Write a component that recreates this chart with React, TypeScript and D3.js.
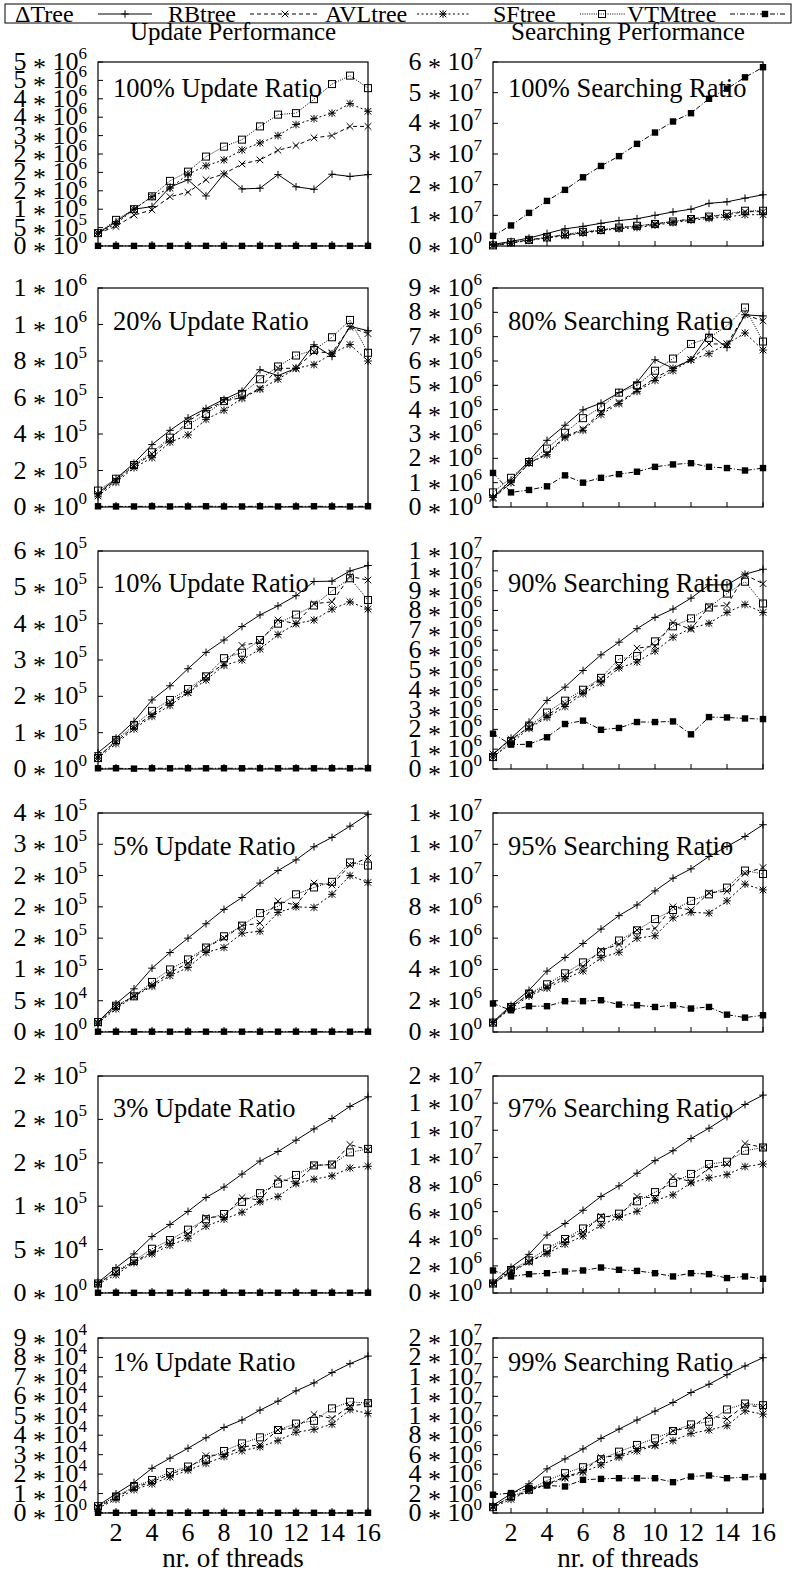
import * as d3 from "d3";

/* threads on the x axis */
const threads = [1, 2, 3, 4, 5, 6, 7, 8, 9, 10, 11, 12, 13, 14, 15, 16];
const seriesNames = ["ΔTree", "RBtree", "AVLtree", "SFtree", "VTMtree"];

/* each panel: [ΔTree, RBtree, AVLtree, SFtree, VTMtree], values in the panel's unit */
// 100% update, x1e6
const upd100 = [
  [0.35, 0.66, 1.0, 1.07, 1.6, 1.8, 1.36, 1.96, 1.55, 1.57, 1.94, 1.61, 1.54, 1.95, 1.89, 1.94],
  [0.35, 0.53, 0.84, 0.98, 1.34, 1.46, 1.8, 1.96, 2.23, 2.34, 2.6, 2.73, 2.94, 3.0, 3.25, 3.25],
  [0.35, 0.6, 1.0, 1.34, 1.57, 1.95, 2.18, 2.34, 2.61, 2.8, 3.0, 3.3, 3.46, 3.61, 3.87, 3.66],
  [0.35, 0.71, 1.0, 1.35, 1.77, 2.02, 2.43, 2.7, 2.89, 3.25, 3.57, 3.61, 3.99, 4.4, 4.63, 4.29],
  [0.004, 0.003, 0.003, 0.004, 0.003, 0.003, 0.004, 0.003, 0.003, 0.004, 0.003, 0.003, 0.004, 0.003, 0.003, 0.004],
];
// 100% searching, x1e7
const srch100 = [
  [0.05, 0.15, 0.26, 0.41, 0.56, 0.64, 0.74, 0.83, 0.89, 1.0, 1.11, 1.2, 1.39, 1.44, 1.56, 1.67],
  [0.02, 0.1, 0.2, 0.28, 0.36, 0.44, 0.52, 0.6, 0.64, 0.72, 0.8, 0.88, 0.95, 1.02, 1.12, 1.12],
  [0.02, 0.09, 0.18, 0.26, 0.34, 0.42, 0.5, 0.56, 0.6, 0.68, 0.76, 0.84, 0.9, 0.95, 1.02, 1.02],
  [0.02, 0.12, 0.2, 0.28, 0.38, 0.46, 0.52, 0.6, 0.66, 0.72, 0.8, 0.88, 0.96, 1.05, 1.15, 1.15],
  [0.33, 0.67, 1.08, 1.47, 1.83, 2.24, 2.61, 2.93, 3.33, 3.7, 4.06, 4.33, 4.8, 5.13, 5.5, 5.83],
];
// 20% update, x1e5
const upd20 = [
  [0.75, 1.55, 2.4, 3.42, 4.2, 4.88, 5.4, 5.9, 6.35, 7.52, 7.2, 7.6, 8.89, 8.25, 9.9, 9.66],
  [0.7, 1.45, 2.25, 2.9, 3.7, 4.7, 5.3, 5.8, 6.0, 6.5, 7.6, 7.6, 8.5, 8.45, 9.85, 9.5],
  [0.6, 1.35, 2.15, 2.7, 3.55, 3.95, 4.8, 5.3, 5.95, 6.45, 7.0, 7.6, 7.8, 8.4, 8.9, 8.0],
  [0.9, 1.55, 2.3, 3.0, 3.8, 4.5, 5.1, 5.8, 6.2, 7.0, 7.7, 8.3, 8.6, 9.3, 10.25, 8.45],
  [0.04, 0.03, 0.03, 0.04, 0.03, 0.03, 0.04, 0.03, 0.03, 0.04, 0.03, 0.03, 0.04, 0.03, 0.03, 0.04],
];
// 80% searching, x1e6
const srch80 = [
  [0.4, 1.1, 1.9, 2.74, 3.36, 3.99, 4.27, 4.7, 5.12, 6.05, 5.7, 6.05, 7.1, 6.55, 7.9, 7.85],
  [0.35, 1.0, 1.8, 2.2, 2.9, 3.2, 3.9, 4.3, 4.8, 5.3, 5.7, 6.05, 6.7, 6.7, 7.9, 7.65],
  [0.4, 1.0, 1.8, 2.15, 2.85, 3.15, 3.8, 4.25, 4.75, 5.2, 5.6, 6.05, 6.3, 6.7, 7.15, 6.45],
  [0.6, 1.2, 1.85, 2.4, 3.05, 3.65, 4.1, 4.7, 5.0, 5.6, 6.1, 6.7, 6.95, 7.45, 8.2, 6.8],
  [1.4, 0.6, 0.7, 0.85, 1.3, 1.0, 1.2, 1.35, 1.45, 1.65, 1.75, 1.8, 1.65, 1.6, 1.5, 1.6],
];
// 10% update, x1e5
const upd10 = [
  [0.45, 0.85, 1.31, 1.9, 2.29, 2.76, 3.21, 3.55, 3.92, 4.24, 4.49, 4.77, 5.16, 5.17, 5.45, 5.6],
  [0.35, 0.75, 1.15, 1.5, 1.85, 2.1, 2.55, 2.9, 3.4, 3.5, 4.1, 4.0, 4.55, 4.6, 5.3, 5.2],
  [0.3, 0.7, 1.1, 1.45, 1.75, 2.1, 2.45, 2.85, 3.0, 3.3, 3.7, 4.0, 4.1, 4.4, 4.6, 4.4],
  [0.3, 0.8, 1.2, 1.6, 1.9, 2.2, 2.55, 3.05, 3.2, 3.55, 4.0, 4.25, 4.5, 4.9, 5.25, 4.65],
  [0.02, 0.02, 0.01, 0.02, 0.02, 0.02, 0.02, 0.02, 0.02, 0.02, 0.02, 0.02, 0.02, 0.02, 0.02, 0.02],
];
// 90% searching, x1e6
const srch90 = [
  [0.72, 1.56, 2.37, 3.46, 4.13, 4.97, 5.76, 6.4, 7.08, 7.65, 8.07, 8.62, 9.29, 9.29, 9.83, 10.08],
  [0.75, 1.5, 2.1, 2.7, 3.3, 3.9, 4.55, 5.2, 6.1, 6.2, 7.39, 7.05, 8.2, 8.25, 9.8, 9.35],
  [0.6, 1.3, 2.05, 2.6, 3.15, 3.8, 4.35, 5.1, 5.4, 5.95, 6.65, 7.1, 7.35, 7.9, 8.3, 7.9],
  [0.6, 1.4, 2.15, 2.85, 3.45, 4.0, 4.6, 5.55, 5.7, 6.44, 7.2, 7.6, 8.15, 8.85, 9.45, 8.35],
  [1.78, 1.23, 1.25, 1.6, 2.27, 2.44, 1.98, 2.07, 2.37, 2.37, 2.4, 1.75, 2.62, 2.6, 2.55, 2.52],
];
// 5% update, x1e3
const upd5 = [
  [16, 45, 69, 102, 127, 150, 173, 196, 215, 238, 258, 275, 296, 311, 329, 348],
  [15, 40, 58, 75, 95, 110, 135, 150, 170, 174, 209, 203, 238, 235, 267, 278],
  [14, 37, 57, 73, 90, 103, 127, 135, 158, 161, 191, 200, 199, 220, 250, 239],
  [16, 42, 57, 80, 100, 116, 135, 153, 170, 190, 201, 220, 231, 240, 271, 266],
  [0.5, 0.5, 0.4, 0.5, 0.5, 0.5, 0.5, 0.5, 0.5, 0.5, 0.5, 0.5, 0.5, 0.5, 0.5, 0.5],
];
// 95% searching, x1e6
const srch95 = [
  [0.64, 1.71, 2.67, 3.89, 4.76, 5.66, 6.58, 7.44, 8.12, 9.02, 9.83, 10.43, 11.22, 11.86, 12.5, 13.25],
  [0.6, 1.6, 2.4, 2.9, 3.6, 4.2, 5.23, 5.6, 6.52, 6.62, 8.0, 7.8, 8.9, 9.0, 10.15, 10.51],
  [0.6, 1.5, 2.3, 2.8, 3.4, 3.9, 4.75, 5.1, 6.0, 6.15, 7.3, 7.65, 7.6, 8.38, 9.45, 9.08],
  [0.6, 1.6, 2.45, 3.05, 3.75, 4.45, 5.1, 5.85, 6.5, 7.22, 7.8, 8.38, 8.8, 9.23, 10.32, 10.1],
  [1.82, 1.39, 1.65, 1.65, 1.97, 1.97, 2.03, 1.75, 1.71, 1.6, 1.71, 1.5, 1.6, 1.11, 0.92, 1.07],
];
// 3% update, x1e3
const upd3 = [
  [12, 29, 45, 65, 79, 94, 110, 122, 137, 152, 163, 176, 189, 201, 215, 226],
  [11, 24, 36, 47, 59, 68, 87, 88, 110, 107, 132, 127, 147, 148, 171, 165],
  [10, 21, 35, 45, 55, 63, 77, 85, 93, 105, 111, 126, 131, 135, 144, 146],
  [11, 25, 37, 51, 61, 73, 85, 91, 105, 115, 126, 136, 147, 148, 162, 166],
  [0.3, 0.3, 0.2, 0.3, 0.3, 0.3, 0.3, 0.3, 0.3, 0.3, 0.3, 0.3, 0.3, 0.3, 0.3, 0.3],
];
// 97% searching, x1e6
const srch97 = [
  [0.78, 1.9, 2.85, 4.27, 5.12, 6.1, 7.12, 7.9, 8.83, 9.76, 10.49, 11.39, 12.15, 13.0, 13.9, 14.59],
  [0.7, 1.6, 2.3, 3.0, 3.9, 4.5, 5.66, 5.6, 7.12, 7.0, 8.59, 8.2, 9.2, 9.5, 11.02, 10.73],
  [0.7, 1.5, 2.3, 2.9, 3.6, 4.2, 5.0, 5.6, 6.02, 6.83, 7.24, 8.12, 8.49, 8.73, 9.32, 9.51],
  [0.7, 1.7, 2.4, 3.29, 3.98, 4.76, 5.54, 5.85, 6.76, 7.44, 8.12, 8.78, 9.51, 9.68, 10.49, 10.73],
  [1.66, 1.22, 1.39, 1.46, 1.59, 1.66, 1.88, 1.71, 1.63, 1.46, 1.22, 1.46, 1.39, 1.1, 1.22, 1.05],
];
// 1% update, x1e3
const upd1 = [
  [3.8, 9.9, 15.7, 23, 28.2, 33.3, 38.7, 44, 47.8, 52.9, 57.5, 62.8, 66.9, 72.2, 76.8, 80.7],
  [3, 8, 13, 16, 20, 23, 29.5, 30, 34, 35, 42.7, 44, 50.7, 48.6, 55, 56.3],
  [2.5, 7, 12, 15, 18.5, 22, 25.5, 29, 32, 34, 37.2, 41.5, 43, 45.6, 53.2, 51.2],
  [3.5, 8.5, 13.5, 17, 21, 23.9, 27.6, 31.9, 35.8, 38.9, 42.7, 46, 47.4, 53.8, 57.2, 56.5],
  [0.1, 0.1, 0.1, 0.1, 0.1, 0.1, 0.1, 0.1, 0.1, 0.1, 0.1, 0.1, 0.1, 0.1, 0.1, 0.1],
];
// 99% searching, x1e6
const srch99 = [
  [0.78, 1.98, 3.0, 4.54, 5.56, 6.59, 7.68, 8.63, 9.56, 10.48, 11.37, 12.39, 13.24, 14.23, 15.12, 15.97],
  [0.7, 1.6, 2.3, 3.0, 3.7, 4.3, 5.73, 5.9, 6.6, 7.0, 8.46, 8.8, 10.07, 9.66, 11.09, 10.9],
  [0.6, 1.4, 2.3, 2.9, 3.6, 4.2, 4.95, 5.73, 6.38, 6.93, 7.44, 8.19, 8.53, 8.98, 10.51, 10.17],
  [0.6, 1.7, 2.4, 3.34, 4.1, 4.71, 5.53, 6.31, 7.0, 7.68, 8.43, 9.11, 9.39, 10.65, 11.26, 11.09],
  [1.88, 2.05, 2.56, 2.83, 2.73, 3.41, 3.51, 3.58, 3.58, 3.58, 3.17, 3.75, 3.86, 3.58, 3.69, 3.75],
];

const panelData = [upd100, srch100, upd20, srch80, upd10, srch90, upd5, srch95, upd3, srch97, upd1, srch99];
const panelLabels = [
  "100% Update Ratio", "100% Searching Ratio",
  "20% Update Ratio", "80% Searching Ratio",
  "10% Update Ratio", "90% Searching Ratio",
  "5% Update Ratio", "95% Searching Ratio",
  "3% Update Ratio", "97% Searching Ratio",
  "1% Update Ratio", "99% Searching Ratio",
];
const columnTitles = ["Update Performance", "Searching Performance"];
const xTicks = [2, 4, 6, 8, 10, 12, 14, 16];
const xLabel = "nr. of threads";

// y axis range per panel (same unit as the data)
const yMax = [5, 6, 12, 9, 6, 11, 350, 14, 250, 16, 90, 18];
const yStep = [0.5, 1, 2, 1, 1, 1, 50, 2, 50, 2, 10, 2];

// tick labels per panel, bottom to top
const yTickLabels = [
  ["0*10^0", "5*10^5", "1*10^6", "2*10^6", "2*10^6", "2*10^6", "3*10^6", "4*10^6", "4*10^6", "5*10^6", "5*10^6"],
  ["0*10^0", "1*10^7", "2*10^7", "3*10^7", "4*10^7", "5*10^7", "6*10^7"],
  ["0*10^0", "2*10^5", "4*10^5", "6*10^5", "8*10^5", "1*10^6", "1*10^6"],
  ["0*10^0", "1*10^6", "2*10^6", "3*10^6", "4*10^6", "5*10^6", "6*10^6", "7*10^6", "8*10^6", "9*10^6"],
  ["0*10^0", "1*10^5", "2*10^5", "3*10^5", "4*10^5", "5*10^5", "6*10^5"],
  ["0*10^0", "1*10^6", "2*10^6", "3*10^6", "4*10^6", "5*10^6", "6*10^6", "7*10^6", "8*10^6", "9*10^6", "1*10^7", "1*10^7"],
  ["0*10^0", "5*10^4", "1*10^5", "2*10^5", "2*10^5", "2*10^5", "3*10^5", "4*10^5"],
  ["0*10^0", "2*10^6", "4*10^6", "6*10^6", "8*10^6", "1*10^7", "1*10^7", "1*10^7"],
  ["0*10^0", "5*10^4", "1*10^5", "2*10^5", "2*10^5", "2*10^5"],
  ["0*10^0", "2*10^6", "4*10^6", "6*10^6", "8*10^6", "1*10^7", "1*10^7", "1*10^7", "2*10^7"],
  ["0*10^0", "1*10^4", "2*10^4", "3*10^4", "4*10^4", "5*10^4", "6*10^4", "7*10^4", "8*10^4", "9*10^4"],
  ["0*10^0", "2*10^6", "4*10^6", "6*10^6", "8*10^6", "1*10^7", "1*10^7", "1*10^7", "2*10^7", "2*10^7"],
];

/* layout */
const W = 795;
const H = 1576;
const colX = [
  [98, 368],
  [493, 763],
];
const rowY = [
  [62, 246],
  [288, 507],
  [551, 769],
  [813, 1032],
  [1076, 1293],
  [1338, 1513],
];
const dashes = [undefined, "4,3", "2,2.5", "1,1.3", "5,2,1,2"];
// legend: text x, sample start, sample end, marker x
const legendLayout = [
  [15, 98, 152, 125],
  [168, 250, 320, 285],
  [325, 417, 470, 443],
  [493, 580, 625, 602],
  [627, 730, 785, 765],
];
const FONT = "'Liberation Serif', 'DejaVu Serif', serif";

function Marker({ kind, x, y }: { kind: number; x: number; y: number }) {
  const s = 3.8;
  const c = 3.3;
  if (kind === 0)
    return <path d={`M${x - s},${y}H${x + s}M${x},${y - s}V${y + s}`} stroke="#000" strokeWidth={1} />;
  if (kind === 1)
    return (
      <path
        d={`M${x - c},${y - c}L${x + c},${y + c}M${x - c},${y + c}L${x + c},${y - c}`}
        stroke="#000"
        strokeWidth={1}
      />
    );
  if (kind === 2)
    return (
      <path
        d={`M${x - s},${y}H${x + s}M${x},${y - s}V${y + s}M${x - c},${y - c}L${x + c},${y + c}M${x - c},${y + c}L${x + c},${y - c}`}
        stroke="#000"
        strokeWidth={1}
      />
    );
  if (kind === 3)
    return <rect x={x - 3.5} y={y - 3.5} width={7} height={7} fill="none" stroke="#000" strokeWidth={1} />;
  return <rect x={x - 3.2} y={y - 3.2} width={6.4} height={6.4} fill="#000" />;
}

function Panel({ index }: { index: number }) {
  const col = index % 2;
  const row = Math.floor(index / 2);
  const [left, right] = colX[col];
  const [top, bottom] = rowY[row];
  const x = d3.scaleLinear().domain([1, 16]).range([left, right]);
  const y = d3.scaleLinear().domain([0, yMax[index]]).range([bottom, top]);
  const tickVals = d3.range(0, yMax[index] + yStep[index] / 2, yStep[index]);
  const series = panelData[index];
  const line = d3
    .line<number>()
    .x((_, i) => x(threads[i]))
    .y((v) => y(v));
  const isLast = row === rowY.length - 1;

  return (
    <g>
      {/* y ticks and labels */}
      {tickVals.map((v, i) => {
        const [m, e] = yTickLabels[index][i].split("*10^");
        return (
          <g key={i}>
            <line x1={left} x2={left + 5} y1={y(v)} y2={y(v)} stroke="#000" />
            <text x={left - 11} y={y(v) + 8} textAnchor="end" fontSize={26}>
              {m}
              <tspan dy={6}>{" *"}</tspan>
              <tspan dy={-6}>{" 10"}</tspan>
              <tspan dy={-11} fontSize={17}>
                {e}
              </tspan>
            </text>
          </g>
        );
      })}
      {/* x ticks */}
      {xTicks.map((t) => (
        <g key={t}>
          <line x1={x(t)} x2={x(t)} y1={bottom} y2={bottom - 5} stroke="#000" />
          {isLast && (
            <text x={x(t)} y={bottom + 28} textAnchor="middle" fontSize={26}>
              {t}
            </text>
          )}
        </g>
      ))}
      {isLast && (
        <text x={(left + right) / 2} y={bottom + 54} textAnchor="middle" fontSize={27}>
          {xLabel}
        </text>
      )}
      {/* panel label */}
      <text x={left + 15} y={top + (bottom - top) * 0.19} fontSize={26.5}>
        {panelLabels[index]}
      </text>
      {/* series */}
      {series.map((vals, s) => (
        <g key={s}>
          <path d={line(vals) ?? ""} fill="none" stroke="#000" strokeWidth={1} strokeDasharray={dashes[s]} />
          {vals.map((v, i) => (
            <Marker key={i} kind={s} x={x(threads[i])} y={y(v)} />
          ))}
        </g>
      ))}
      <rect x={left} y={top} width={right - left} height={bottom - top} fill="none" stroke="#000" strokeWidth={1.2} />
    </g>
  );
}

export default function App() {
  return (
    <svg
      width={W}
      height={H}
      viewBox={`0 0 ${W} ${H}`}
      style={{ position: "absolute", left: 0, top: 0, background: "#fff" }}
      fontFamily={FONT}
    >
      {/* legend */}
      <rect x={5} y={4} width={786} height={19} fill="none" stroke="#000" strokeWidth={1} />
      {seriesNames.map((name, s) => {
        const [tx, l0, l1, mx] = legendLayout[s];
        return (
          <g key={name}>
            <text x={tx} y={21.5} fontSize={24}>
              {name}
            </text>
            <line x1={l0} x2={l1} y1={14} y2={14} stroke="#000" strokeWidth={1} strokeDasharray={dashes[s]} />
            <Marker kind={s} x={mx} y={14} />
          </g>
        );
      })}
      {/* column titles */}
      {columnTitles.map((t, c) => (
        <text key={t} x={(colX[c][0] + colX[c][1]) / 2} y={40} textAnchor="middle" fontSize={25}>
          {t}
        </text>
      ))}
      {panelData.map((_, i) => (
        <Panel key={i} index={i} />
      ))}
    </svg>
  );
}
